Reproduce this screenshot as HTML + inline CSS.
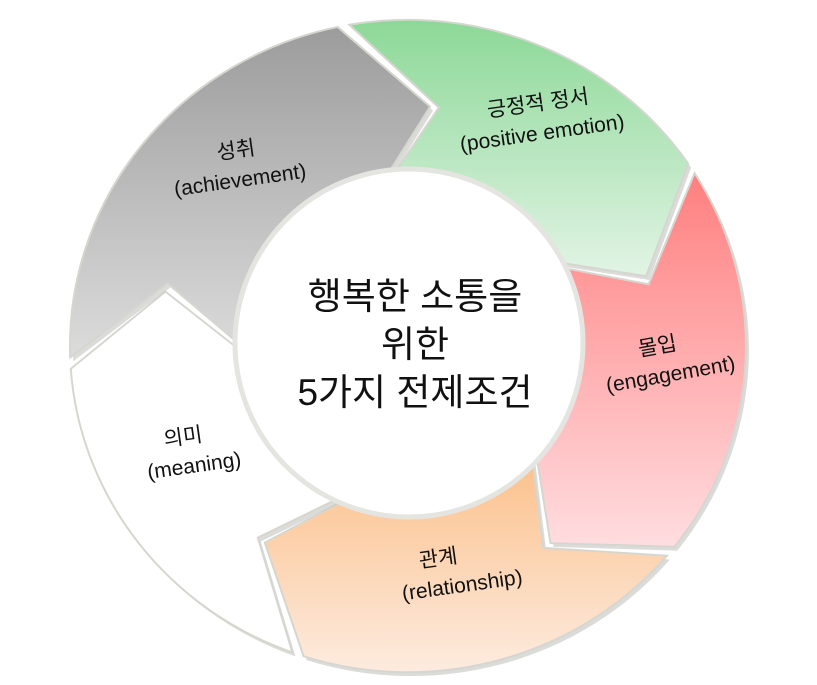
<!DOCTYPE html>
<html><head><meta charset="utf-8"><style>
html,body{margin:0;padding:0;background:#fff;width:817px;height:685px;overflow:hidden}
svg{display:block}
text{font-family:"Liberation Sans","Noto Sans CJK KR","NanumGothic",sans-serif;fill:#111}
</style></head><body>
<svg id="s" width="817" height="685" viewBox="0 0 817 685">
<defs>
<linearGradient id="gG" x1="0" y1="0" x2="0" y2="1"><stop offset="0" stop-color="#8cd897"/><stop offset="1" stop-color="#e2f4e5"/></linearGradient>
<linearGradient id="gA" x1="0" y1="0" x2="0" y2="1"><stop offset="0" stop-color="#9c9c9c"/><stop offset="1" stop-color="#dcdcdc"/></linearGradient>
<linearGradient id="gR" x1="0" y1="0" x2="0" y2="1"><stop offset="0" stop-color="#ff7f7f"/><stop offset="1" stop-color="#ffdde0"/></linearGradient>
<linearGradient id="gO" x1="0" y1="0" x2="0" y2="1"><stop offset="0" stop-color="#fbbe86"/><stop offset="1" stop-color="#fdebdf"/></linearGradient>
<linearGradient id="gW" x1="0" y1="0" x2="0" y2="1"><stop offset="0" stop-color="#ffffff"/><stop offset="1" stop-color="#ffffff"/></linearGradient>
</defs>
<g id="segs" transform="translate(408,346) scale(1,0.965) translate(-408,-346)"></g>
<circle cx="409" cy="343" r="174" fill="#fff" stroke="#e4e4e0" stroke-width="5"/>
<text x="415" y="309" font-size="37" text-anchor="middle">행복한 소통을</text>
<text x="415" y="357" font-size="37" text-anchor="middle">위한</text>
<text x="415" y="405" font-size="37" text-anchor="middle">5가지 전제조건</text>
<g font-size="21" text-anchor="middle">
<g transform="rotate(-8 540 118)"><text x="540" y="110">긍정적 정서</text><text x="540" y="140">(positive emotion)</text></g>
<g transform="rotate(-8 238 165)"><text x="238" y="157">성취</text><text x="238" y="187">(achievement)</text></g>
<g transform="rotate(-10 665 360)"><text x="660" y="352">몰입</text><text x="668" y="382">(engagement)</text></g>
<g transform="rotate(-8 190 450)"><text x="185" y="443">의미</text><text x="192" y="473">(meaning)</text></g>
<g transform="rotate(-8 455 570)"><text x="440" y="563">관계</text><text x="460" y="593">(relationship)</text></g>
</g>
</svg>
<script>
(function(){
var cx=408,cy=346,Ro=338,Ri=160,Rm=(Ro+Ri)/2,d=9,g=1;
function P(t,r){var a=t*Math.PI/180;return (cx+r*Math.sin(a)).toFixed(1)+","+(cy-r*Math.cos(a)).toFixed(1);}
var segs=[[-2,66,"gG"],[66,138,"gR"],[138,208,"gO"],[208,276,"gW"],[276,358,"gA"]];
var out="";
segs.forEach(function(s){
 var a=s[0]+g,b=s[1]-g;
 var p="M"+P(a-d,Ro)+" A"+Ro+","+Ro+" 0 0 1 "+P(b-d,Ro)+" L"+P(b+d*0.9,Rm)+" L"+P(b-d,Ri)+" A"+Ri+","+Ri+" 0 0 0 "+P(a-d,Ri)+" L"+P(a+d*0.9,Rm)+" Z";
 out+='<path d="'+p+'" fill="#b8b8b4" transform="translate(3,4)" opacity="0.5"/>';
 out+='<path d="'+p+'" fill="url(#'+s[2]+')" stroke="#d6d6d0" stroke-width="2"/>';
});
document.getElementById("segs").innerHTML=out;
})();
</script>
</body></html>
